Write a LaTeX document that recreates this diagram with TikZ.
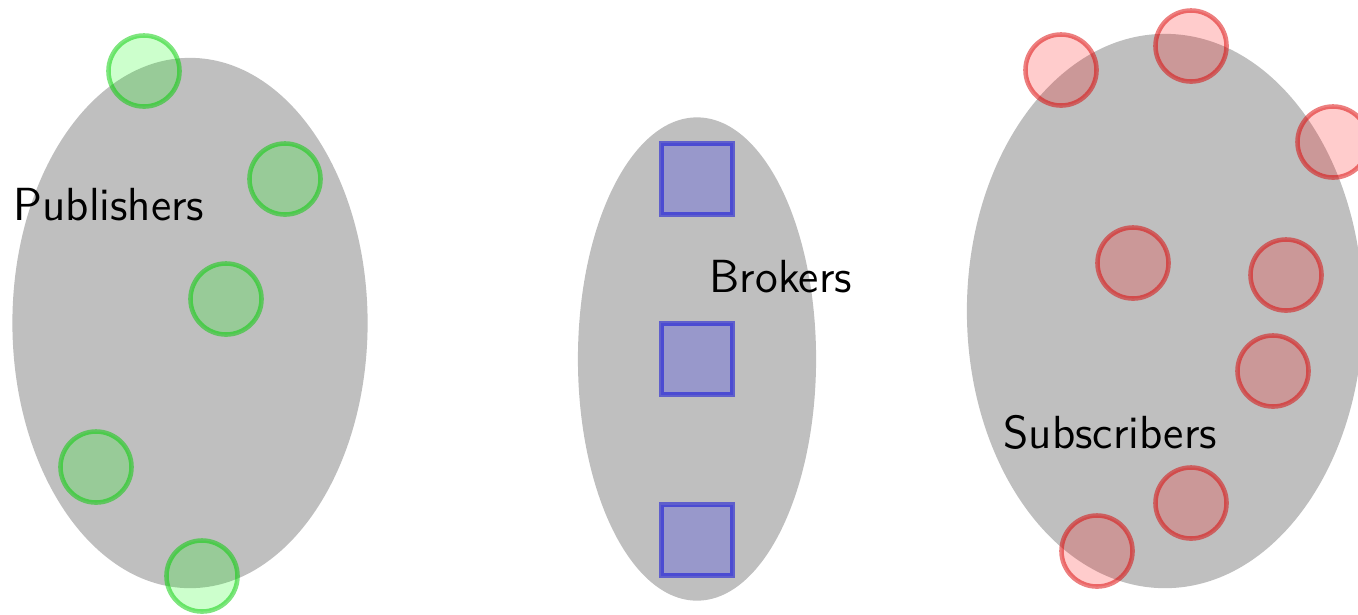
\documentclass[tikz,border=0pt]{standalone}
\usetikzlibrary{shapes.geometric}
\begin{document}
\begin{tikzpicture}[x=0.01cm,y=-0.01cm,
  group/.style={ellipse,fill=black!25,draw=none,inner sep=0},
  pub/.style={circle,minimum size=0.71cm,inner sep=0,line width=1.3pt,draw=green!80!black,draw opacity=0.5,fill=green,fill opacity=0.2},
  sub/.style={circle,minimum size=0.71cm,inner sep=0,line width=1.3pt,draw=red!85!black,draw opacity=0.5,fill=red,fill opacity=0.2},
  brk/.style={rectangle,minimum size=0.71cm,inner sep=0,line width=1.3pt,draw=blue!85!black,draw opacity=0.5,fill=blue,fill opacity=0.2},
  lbl/.style={anchor=west,inner sep=0,font=\sffamily\fontsize{13.2}{15}\selectfont}]
\useasboundingbox (0,0) rectangle (1358,614);
\clip (0,0) rectangle (1358,614);
\node[group,minimum width=3.55cm,minimum height=5.3cm] (pg) at (190,323) {};
\node[group,minimum width=2.38cm,minimum height=4.83cm] (bg) at (697,359) {};
\node[group,minimum width=3.96cm,minimum height=5.54cm] (sg) at (1165,311) {};
\node[pub] (p1) at (144,71) {};
\node[pub] (p2) at (285,179) {};
\node[pub] (p3) at (226,299) {};
\node[pub] (p4) at (96,467) {};
\node[pub] (p5) at (202,576) {};
\node[brk] (b1) at (697,179) {};
\node[brk] (b2) at (697,359) {};
\node[brk] (b3) at (697,540) {};
\node[sub] (s1) at (1061,70) {};
\node[sub] (s2) at (1191,46) {};
\node[sub] (s3) at (1333,142) {};
\node[sub] (s4) at (1133,263) {};
\node[sub] (s5) at (1286,275) {};
\node[sub] (s6) at (1273,371) {};
\node[sub] (s7) at (1191,503) {};
\node[sub] (s8) at (1097,551) {};
\node[lbl] (lp) at (13,205) {Publishers};
\node[lbl] (lb) at (709,277) {Brokers};
\node[lbl] (ls) at (1003,432) {Subscribers};
\end{tikzpicture}
\end{document}
